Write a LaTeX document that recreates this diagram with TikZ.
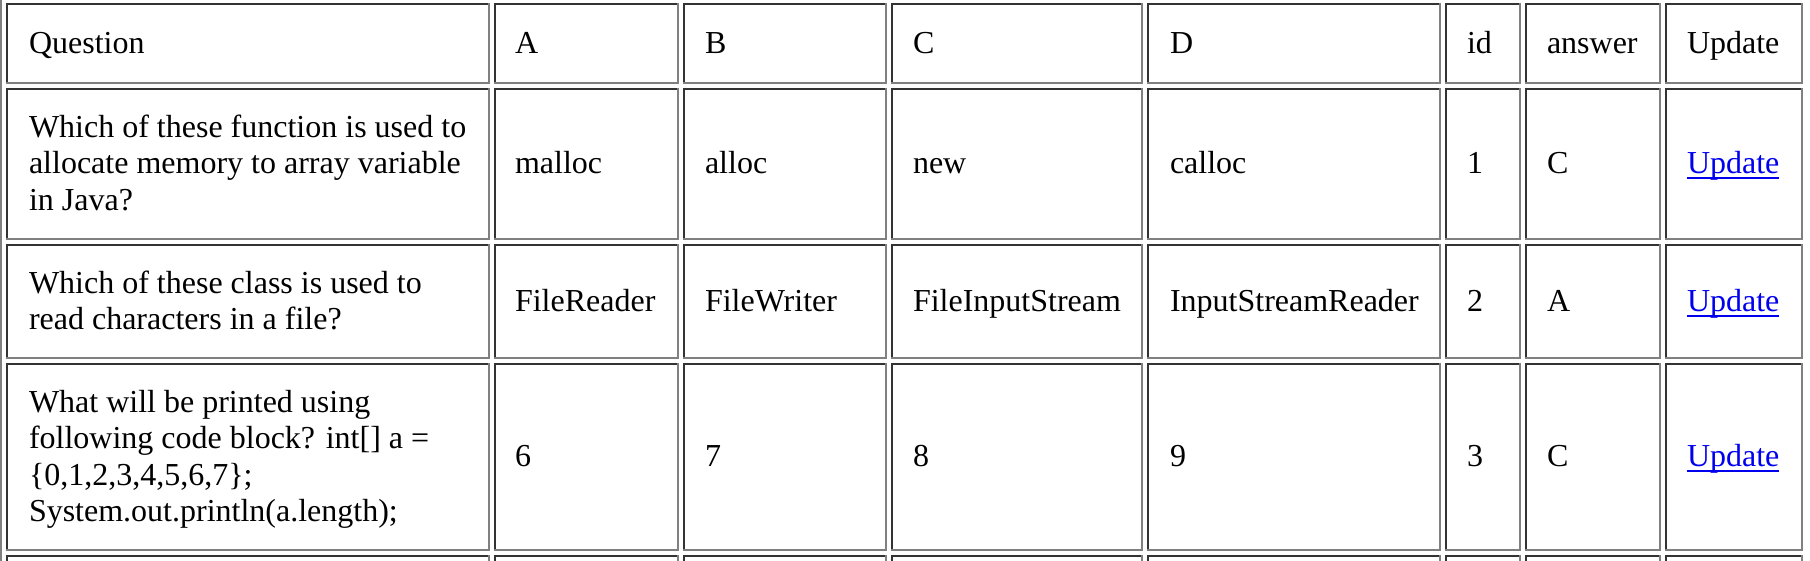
\documentclass[tikz,border=0pt]{standalone}
\usepackage{fontspec}
\setmainfont{Liberation Serif}
\usetikzlibrary{calc}
\definecolor{bdark}{HTML}{333333}
\definecolor{bgray}{HTML}{808080}
\definecolor{linkblue}{HTML}{0000EE}
\tikzset{
 darkb/.style={draw=bdark, line width=2pt, line cap=rect},
 grayb/.style={draw=bgray, line width=2pt, line cap=rect},
 cellbox/.style={inner sep=0pt, outer sep=0pt, anchor=north west},
 txt/.style={anchor=base west, inner sep=0pt, outer sep=0pt, font=\fontsize{32}{36.5}\selectfont},
 lnk/.style={txt, text=linkblue},
 uline/.style={draw=linkblue, line width=2pt},
}
\begin{document}
\begin{tikzpicture}[x=1pt,y=-1pt]
\useasboundingbox (0,0) rectangle (1810,560);
\clip (0,0) rectangle (1810,560);
\fill[white] (0,0) rectangle (1810,560);
\coordinate (tbltop) at (1,-5);
\coordinate (tblbot) at (1,600);
\draw[grayb, line cap=butt] (tbltop) -- (tblbot);
\foreach \i in {0,...,7}{
 \foreach \j in {0,...,4}{
  \pgfmathsetmacro\L{{6,494,683,891,1147,1445,1525,1665}[\i]+1}
  \pgfmathsetmacro\R{{490,679,887,1143,1441,1521,1661,1803}[\i]-1}
  \pgfmathsetmacro\T{{3,88,244,363,555}[\j]+1}
  \pgfmathsetmacro\B{{84,240,359,551,620}[\j]-1}
  \pgfmathsetmacro\W{\R-\L}
  \pgfmathsetmacro\H{\B-\T}
  \node[cellbox, minimum width=\W pt, minimum height=\H pt] (c-\i-\j) at (\L,\T) {};
  \draw[darkb] (c-\i-\j.south west) -- (c-\i-\j.north west) -- (c-\i-\j.north east);
  \draw[grayb] (c-\i-\j.north east) -- (c-\i-\j.south east) -- (c-\i-\j.south west);
 }
}
% header
\node[txt] (h0) at ($(c-0-0.west)+(22,9.7)$) {Question};
\node[txt] (h1) at ($(c-1-0.west)+(20,9.7)$) {A};
\node[txt] (h2) at ($(c-2-0.west)+(21,9.7)$) {B};
\node[txt] (h3) at ($(c-3-0.west)+(21,9.7)$) {C};
\node[txt] (h4) at ($(c-4-0.west)+(22,9.7)$) {D};
\node[txt] (h5) at ($(c-5-0.west)+(21,9.7)$) {id};
\node[txt] (h6) at ($(c-6-0.west)+(21,9.7)$) {answer};
\node[txt] (h7) at ($(c-7-0.west)+(21,9.7)$) {Update};
% row 1
\node[txt] (q1a) at ($(c-0-1.west)+(22,-26.8)$) {Which of these function is used to};
\node[txt] (q1b) at ($(c-0-1.west)+(22,9.7)$) {allocate memory to array variable};
\node[txt] (q1c) at ($(c-0-1.west)+(22,46.2)$) {in Java?};
\node[txt] (a1) at ($(c-1-1.west)+(20,9.7)$) {malloc};
\node[txt] (b1) at ($(c-2-1.west)+(21,9.7)$) {alloc};
\node[txt] (cc1) at ($(c-3-1.west)+(21,9.7)$) {new};
\node[txt] (d1) at ($(c-4-1.west)+(22,9.7)$) {calloc};
\node[txt] (i1) at ($(c-5-1.west)+(21,9.7)$) {1};
\node[txt] (r1) at ($(c-6-1.west)+(21,9.7)$) {C};
\node[lnk] (u1) at ($(c-7-1.west)+(21,9.7)$) {Update};
% row 2
\node[txt] (q2a) at ($(c-0-2.west)+(22,-8.5)$) {Which of these class is used to};
\node[txt] (q2b) at ($(c-0-2.west)+(22,28)$) {read characters in a file?};
\node[txt] (a2) at ($(c-1-2.west)+(20,9.7)$) {FileReader};
\node[txt] (b2) at ($(c-2-2.west)+(21,9.7)$) {FileWriter};
\node[txt] (cc2) at ($(c-3-2.west)+(21,9.7)$) {FileInputStream};
\node[txt] (d2) at ($(c-4-2.west)+(22,9.7)$) {InputStreamReader};
\node[txt] (i2) at ($(c-5-2.west)+(21,9.7)$) {2};
\node[txt] (r2) at ($(c-6-2.west)+(21,9.7)$) {A};
\node[lnk] (u2) at ($(c-7-2.west)+(21,9.7)$) {Update};
% row 3
\node[txt] (q3a) at ($(c-0-3.west)+(22,-45)$) {What will be printed using};
\node[txt] (q3b) at ($(c-0-3.west)+(22,-8.5)$) {following code block? int[] a =};
\node[txt] (q3c) at ($(c-0-3.west)+(22,28)$) {\{0,1,2,3,4,5,6,7\};};
\node[txt] (q3d) at ($(c-0-3.west)+(22,64.5)$) {System.out.println(a.length);};
\node[txt] (a3) at ($(c-1-3.west)+(20,9.7)$) {6};
\node[txt] (b3) at ($(c-2-3.west)+(21,9.7)$) {7};
\node[txt] (cc3) at ($(c-3-3.west)+(21,9.7)$) {8};
\node[txt] (d3) at ($(c-4-3.west)+(22,9.7)$) {9};
\node[txt] (i3) at ($(c-5-3.west)+(21,9.7)$) {3};
\node[txt] (r3) at ($(c-6-3.west)+(21,9.7)$) {C};
\node[lnk] (u3) at ($(c-7-3.west)+(21,9.7)$) {Update};
% link underlines
\foreach \u in {u1,u2,u3}{
 \draw[uline] ([yshift=-4.5pt]\u.base west) -- ([yshift=-4.5pt]\u.base east);
}
\end{tikzpicture}
\end{document}
